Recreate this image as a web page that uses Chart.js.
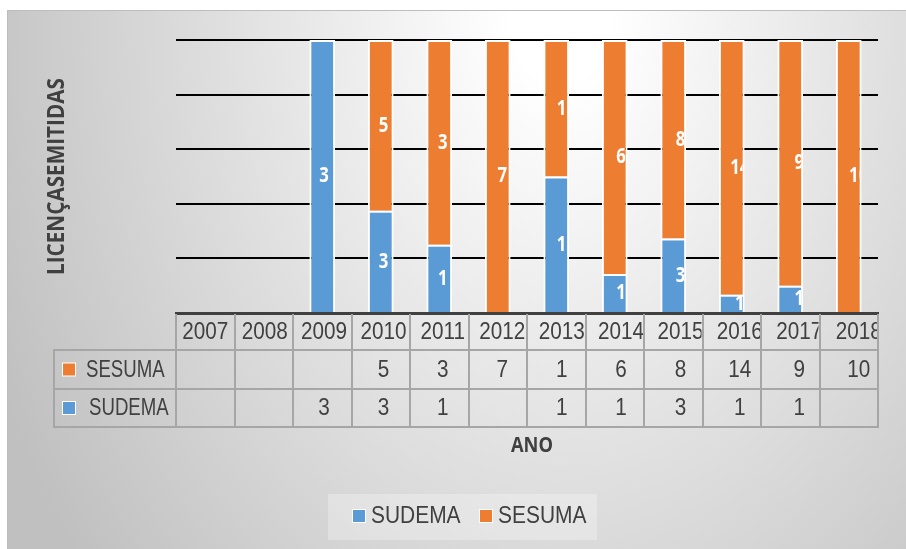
<!DOCTYPE html>
<html>
<head>
<meta charset="utf-8">
<script src="https://cdn.jsdelivr.net/npm/chart.js@4.4.1/dist/chart.umd.min.js"></script>
<style>
  html, body { margin: 0; padding: 0; background: #ffffff; }
  #licChart { display: block; }
</style>
</head>
<body>
<canvas id="licChart" width="906" height="549"></canvas>
<script>
// dados
const anos = ['2007', '2008', '2009', '2010', '2011', '2012', '2013', '2014', '2015', '2016', '2017', '2018'];
const sudema = [null, null, 3, 3, 1, null, 1, 1, 3, 1, 1, null];
const sesuma = [null, null, null, 5, 3, 7, 1, 6, 8, 14, 9, 10];
const yTicks = [0, 20, 40, 60, 80, 100];

const BLUE = '#5b9bd5';
const ORANGE = '#ed7d31';
const TEXT = '#404040';
const LINE = '#a6a6a6';

// 100% empilhado
const totais = anos.map((a, i) => (sudema[i] || 0) + (sesuma[i] || 0));
const pct = arr => arr.map((v, i) => v ? v / totais[i] * 100 : null);

// o Excel desloca um pouco os textos para a direita
const drift = i => 0.9 * i;

function squeezeText(ctx, txt, x, y, sx) {
    ctx.save();
    ctx.translate(x, y);
    ctx.scale(sx, 1);
    ctx.fillText(txt, 0, 0);
    ctx.restore();
}

const bgPlugin = {
    id: 'bg',
    beforeDraw(chart) {
        const ctx = chart.ctx;
        ctx.save();
        ctx.fillStyle = '#ffffff';
        ctx.fillRect(0, 0, chart.width, chart.height);
        ctx.translate(560, 10);
        ctx.scale(1, 1.4);
        const g = ctx.createRadialGradient(0, 0, 0, 0, 0, 620);
        g.addColorStop(0, '#ffffff');
        g.addColorStop(0.08, '#ffffff');
        g.addColorStop(1, '#c0c0c0');
        ctx.fillStyle = g;
        ctx.fillRect(7 - 560, 0, chart.width, chart.height);
        ctx.restore();
        ctx.save();
        ctx.strokeStyle = '#bdbdbd';
        ctx.lineWidth = 1;
        ctx.strokeRect(7.5, 10.5, chart.width, chart.height);
        ctx.restore();
    }
};

const labelPlugin = {
    id: 'barLabels',
    afterDatasetsDraw(chart) {
        const ctx = chart.ctx;
        ctx.save();
        ctx.font = 'bold 22px "Open Sans"';
        ctx.fillStyle = '#ffffff';
        ctx.textAlign = 'center';
        ctx.textBaseline = 'middle';
        chart.data.datasets.forEach((ds, d) => {
            const meta = chart.getDatasetMeta(d);
            meta.data.forEach((bar, i) => {
                if (!ds.raw[i]) return;
                const p = bar.getProps(['x', 'y', 'base', 'width'], true);
                ctx.save();
                ctx.beginPath();
                ctx.rect(p.x - p.width / 2 + 2, p.y, p.width - 4, p.base - p.y);
                ctx.clip();
                squeezeText(ctx, String(ds.raw[i]), p.x + drift(i), (p.y + p.base) / 2, 0.76);
                ctx.restore();
            });
        });
        ctx.restore();
    }
};

const tablePlugin = {
    id: 'dataTable',
    afterDraw(chart) {
        const ctx = chart.ctx;
        const xs = chart.scales.x;
        const n = anos.length;
        const step = (xs.right - xs.left) / n;
        const top = chart.chartArea.bottom;
        const rowY = [top, 350, 389, 427];
        const leftX = 54;

        ctx.save();
        ctx.strokeStyle = LINE;
        ctx.lineWidth = 2;
        ctx.beginPath();
        for (let i = 0; i <= n; i++) {
            const x = Math.round(xs.left + i * step);
            ctx.moveTo(x, top + 1);
            ctx.lineTo(x, rowY[3]);
        }
        ctx.moveTo(leftX, rowY[1]);
        ctx.lineTo(leftX, rowY[3]);
        for (let r = 1; r <= 3; r++) {
            ctx.moveTo(leftX - 1, rowY[r]);
            ctx.lineTo(xs.right + 1, rowY[r]);
        }
        ctx.stroke();

        ctx.fillStyle = TEXT;
        ctx.textAlign = 'center';
        ctx.textBaseline = 'middle';
        ctx.font = '23px "Liberation Sans"';
        const rows = [anos, sesuma, sudema];
        rows.forEach((vals, r) => {
            const cy = (rowY[r] + rowY[r + 1]) / 2 + 1;
            vals.forEach((v, i) => {
                if (v === null) return;
                const x0 = xs.left + i * step;
                ctx.save();
                ctx.beginPath();
                ctx.rect(x0 + 1, rowY[r], step - 2, rowY[r + 1] - rowY[r]);
                ctx.clip();
                squeezeText(ctx, String(v), x0 + step / 2 + drift(i), cy, 0.9);
                ctx.restore();
            });
        });

        // legendas das linhas
        const series = [['SESUMA', ORANGE, 86], ['SUDEMA', BLUE, 89]];
        ctx.textAlign = 'left';
        ctx.font = '23px "Liberation Sans"';
        series.forEach(([name, col, tx], k) => {
            const cy = (rowY[k + 1] + rowY[k + 2]) / 2;
            ctx.fillStyle = '#ffffff';
            ctx.fillRect(62, cy - 7, 14, 14);
            ctx.fillStyle = col;
            ctx.fillRect(63, cy - 6, 12, 12);
            ctx.fillStyle = TEXT;
            squeezeText(ctx, name, tx, cy + 1, 0.81);
        });

        // títulos dos eixos
        ctx.textAlign = 'center';
        ctx.font = 'bold 21px "Open Sans"';
        let w = ctx.measureText('ANO').width;
        squeezeText(ctx, 'ANO', (xs.left + xs.right) / 2 + 5, 446, 42 / w);

        ctx.save();
        ctx.translate(56, (chart.chartArea.top + chart.chartArea.bottom) / 2);
        ctx.rotate(-Math.PI / 2);
        ctx.font = 'bold 23px "Open Sans"';
        w = ctx.measureText('LICENÇASEMITIDAS').width;
        squeezeText(ctx, 'LICENÇASEMITIDAS', 0, 1, 197 / w);
        ctx.restore();

        // legenda
        ctx.fillStyle = 'rgba(255,255,255,0.28)';
        ctx.fillRect(328, 494, 269, 46);
        const items = [['SUDEMA', BLUE, 352], ['SESUMA', ORANGE, 479]];
        ctx.textAlign = 'left';
        ctx.font = '23px "Liberation Sans"';
        items.forEach(([name, col, lx]) => {
            ctx.fillStyle = '#ffffff';
            ctx.fillRect(lx, 509, 14, 14);
            ctx.fillStyle = col;
            ctx.fillRect(lx + 1, 510, 12, 12);
            ctx.fillStyle = TEXT;
            squeezeText(ctx, name, lx + 19, 517, 0.91);
        });
        ctx.restore();
    }
};

const ctx = document.getElementById('licChart').getContext('2d');
const licChart = new Chart(ctx, {
    type: 'bar',
    data: {
        labels: anos,
        datasets: [{
            label: 'SUDEMA',
            data: pct(sudema),
            raw: sudema,
            backgroundColor: BLUE,
            borderColor: '#ffffff',
            borderWidth: 2
        }, {
            label: 'SESUMA',
            data: pct(sesuma),
            raw: sesuma,
            backgroundColor: ORANGE,
            borderColor: '#ffffff',
            borderWidth: 2
        }]
    },
    options: {
        responsive: false,
        animation: false,
        layout: { padding: { left: 176, right: 28, top: 40, bottom: 236 } },
        datasets: { bar: { categoryPercentage: 1, barPercentage: 0.44 } },
        scales: {
            x: {
                stacked: true,
                ticks: { display: false },
                grid: { display: false, drawTicks: false },
                border: { color: '#404040', width: 3 }
            },
            y: {
                stacked: true,
                min: yTicks[0],
                max: yTicks[yTicks.length - 1],
                afterBuildTicks: scale => { scale.ticks = yTicks.map(v => ({ value: v })); },
                ticks: { display: false },
                grid: {
                    color: c => c.tick && c.tick.value === 0 ? 'rgba(0,0,0,0)' : '#000000',
                    lineWidth: 2,
                    drawTicks: false
                },
                border: { display: false }
            }
        },
        plugins: {
            legend: { display: false },
            tooltip: { enabled: false }
        }
    },
    plugins: [bgPlugin, labelPlugin, tablePlugin]
});
</script>
</body>
</html>
